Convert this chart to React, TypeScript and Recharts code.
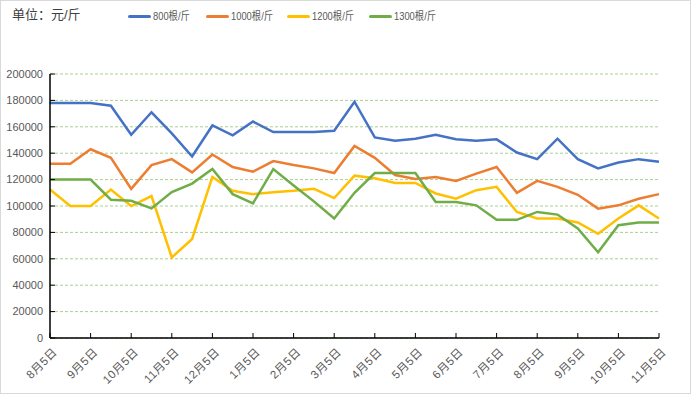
import { LineChart, Line, XAxis, YAxis, CartesianGrid } from "recharts";

// category labels (5th and 20th of each month)
const dates = [
  "8月5日", "8月20日", "9月5日", "9月20日", "10月5日", "10月20日", "11月5日", "11月20日",
  "12月5日", "12月20日", "1月5日", "1月20日", "2月5日", "2月20日", "3月5日", "3月20日",
  "4月5日", "4月20日", "5月5日", "5月20日", "6月5日", "6月20日", "7月5日", "7月20日",
  "8月5日", "8月20日", "9月5日", "9月20日", "10月5日", "10月20日", "11月5日",
];

const price800 = [
  178000, 178000, 178000, 176000, 154000, 171000, 155000, 137500, 161000, 153500, 164000,
  156000, 156000, 156000, 157000, 179000, 152000, 149500, 151000, 154000, 150500, 149500,
  150500, 140500, 135500, 151000, 135500, 128500, 133000, 135500, 133500,
];
const price1000 = [
  132000, 132000, 143000, 136500, 113000, 131000, 135500, 125500, 139000, 129500, 126000,
  134000, 131000, 128500, 125000, 145500, 136500, 123500, 120500, 122000, 119000, 124500,
  129500, 110000, 119000, 114500, 108500, 98000, 100500, 105500, 109000,
];
const price1200 = [
  112500, 100000, 100000, 112500, 100000, 107500, 61000, 75000, 122000, 111500, 109000,
  110500, 111500, 113000, 106000, 123000, 121000, 117500, 117500, 109500, 105500, 112000,
  114500, 95500, 90500, 90500, 87500, 79000, 90500, 100500, 90500,
];
const price1300 = [
  120000, 120000, 120000, 104800, 104000, 98200, 110500, 117000, 128000, 109000, 102000,
  128000, 115500, 103500, 90500, 110000, 125000, 125000, 125000, 103000, 103000, 100500,
  89500, 89500, 95500, 93500, 83000, 65000, 85500, 87500, 87500,
];

const yTicks = [0, 20000, 40000, 60000, 80000, 100000, 120000, 140000, 160000, 180000, 200000];

const series = [
  { key: "p800", name: "800根/斤", color: "#4472C4", legendX: 128 },
  { key: "p1000", name: "1000根/斤", color: "#ED7D31", legendX: 206 },
  { key: "p1200", name: "1200根/斤", color: "#FFC000", legendX: 287 },
  { key: "p1300", name: "1300根/斤", color: "#70AD47", legendX: 369 },
];

const data = dates.map((d, i) => ({
  date: d,
  p800: price800[i],
  p1000: price1000[i],
  p1200: price1200[i],
  p1300: price1300[i],
}));

const FONT = '"Liberation Sans", "Noto Sans CJK SC", sans-serif';

const YTick = (props: any) => {
  const { x, y, payload } = props;
  return (
    <g>
      <line x1={x + 7} x2={x + 12} y1={y} y2={y} stroke="#000" strokeWidth={1} />
      <text x={x} y={y} dy="0.35em" textAnchor="end" fontSize={11} fill="#595959" fontFamily={FONT}>
        {payload.value}
      </text>
    </g>
  );
};

const XTick = (props: any) => {
  const { x, y, payload } = props;
  return (
    <g>
      <line x1={x} x2={x} y1={y - 5} y2={y - 10} stroke="#000" strokeWidth={1} />
      <g transform={`translate(${x + 5},${y + 7}) rotate(-45)`}>
        <text
          x={0}
          y={0}
          dy="0.35em"
          textAnchor="end"
          fontSize={11.5}
          letterSpacing={0.5}
          fill="#595959"
          fontFamily={FONT}
        >
          {payload.value}
        </text>
      </g>
    </g>
  );
};

export default function App() {
  return (
    <div style={{ position: "fixed", left: 0, top: 0, width: 691, height: 394, background: "#fff" }}>
      <LineChart width={691} height={394} data={data} margin={{ top: 74, right: 32, left: 0, bottom: 0 }}>
        <CartesianGrid vertical={false} stroke="#A9D18E" strokeDasharray="3 2" />
        <XAxis
          dataKey="date"
          interval={1}
          height={56}
          tickLine={false}
          tickSize={0}
          tickMargin={5}
          axisLine={{ stroke: "#000", strokeWidth: 1.5 }}
          tick={<XTick />}
        />
        <YAxis
          domain={[0, 200000]}
          ticks={yTicks}
          width={50}
          tickLine={false}
          tickSize={0}
          tickMargin={7}
          axisLine={{ stroke: "#000", strokeWidth: 1.5 }}
          tick={<YTick />}
        />
        {series.map((s) => (
          <Line
            key={s.key}
            type="linear"
            dataKey={s.key}
            name={s.name}
            stroke={s.color}
            strokeWidth={2.5}
            dot={false}
            isAnimationActive={false}
          />
        ))}
      </LineChart>

      {/* title */}
      <div style={{ position: "absolute", left: 12, top: 4, fontSize: 13, color: "#404040", fontFamily: FONT }}>
        单位：元/斤
      </div>

      {/* legend */}
      {series.map((s) => (
        <div key={s.key}>
          <div
            style={{
              position: "absolute",
              left: s.legendX,
              top: 14.5,
              width: 23,
              height: 3,
              borderRadius: 1.5,
              background: s.color,
            }}
          />
          <div
            style={{
              position: "absolute",
              left: s.legendX + 25,
              top: 8.5,
              fontSize: 11,
              lineHeight: "14px",
              color: "#595959",
              fontFamily: FONT,
              whiteSpace: "nowrap",
              transform: "scaleX(0.85)",
              transformOrigin: "left center",
            }}
          >
            {s.name}
          </div>
        </div>
      ))}

      <div
        style={{
          position: "absolute",
          left: 0,
          top: 0,
          width: 691,
          height: 394,
          boxSizing: "border-box",
          border: "1px solid #D9D9D9",
          pointerEvents: "none",
        }}
      />
    </div>
  );
}
